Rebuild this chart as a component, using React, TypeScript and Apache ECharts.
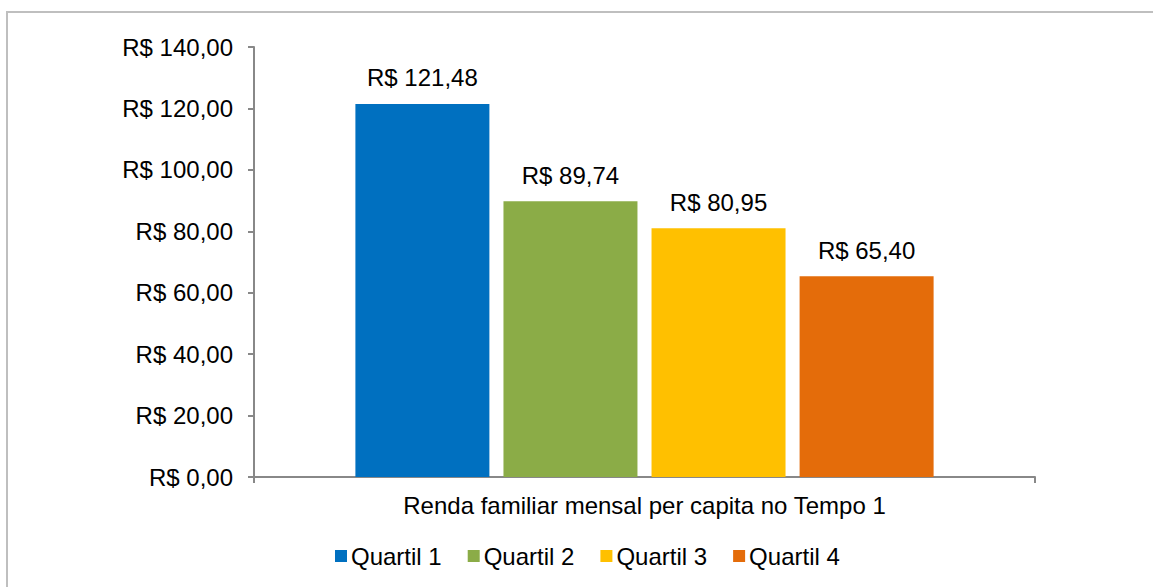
import React, { useEffect, useRef } from "react";
import * as echarts from "echarts";

const categories = ["Renda familiar mensal per capita no Tempo 1"];
const seriesNames = ["Quartil 1", "Quartil 2", "Quartil 3", "Quartil 4"];
const seriesValues = [121.48, 89.74, 80.95, 65.4];
const seriesColors = ["#0070C0", "#8BAC47", "#FFC000", "#E46C0A"];
const yMin = 0;
const yMax = 140;
const yInterval = 20;

const fmt = (v: number) => "R$ " + v.toFixed(2).replace(".", ",");

export default function App() {
  const ref = useRef<HTMLDivElement>(null);
  useEffect(() => {
    document.body.style.margin = "0";
    const chart = echarts.init(ref.current!, null, { renderer: "svg" });
    const font = "Liberation Sans, Arial, sans-serif";
    chart.setOption({
      animation: false,
      backgroundColor: "#fff",
      textStyle: { fontFamily: font },
      graphic: [
        {
          type: "rect",
          shape: { x: 7, y: 12, width: 1160, height: 600 },
          style: { fill: "none", stroke: "#BFBFBF", lineWidth: 2 },
          silent: true,
        },
      ],
      grid: { left: 254, right: 118, top: 47, bottom: 110 },
      legend: {
        top: 539,
        left: 330,
        itemWidth: 12,
        itemHeight: 12,
        itemGap: 26,
        icon: "rect",
        textStyle: { fontSize: 24, color: "#000", fontFamily: font, padding: [0, 0, 0, -1] },
        data: seriesNames,
      },
      xAxis: {
        type: "category",
        data: categories,
        axisLine: { lineStyle: { color: "#888", width: 2 } },
        axisTick: { show: true, length: 6, lineStyle: { color: "#888", width: 2 } },
        axisLabel: { fontSize: 24, color: "#000", margin: 16, fontFamily: font },
      },
      yAxis: {
        type: "value",
        min: yMin,
        max: yMax,
        interval: yInterval,
        splitLine: { show: false },
        axisLine: { show: true, lineStyle: { color: "#888", width: 2 } },
        axisTick: { show: true, length: 6, lineStyle: { color: "#888", width: 2 } },
        axisLabel: { fontSize: 24, color: "#000", margin: 21, fontFamily: font, formatter: (v: number) => fmt(v) },
      },
      series: seriesNames.map((name, i) => ({
        name,
        type: "bar",
        barWidth: 134,
        barGap: "10.5%",
        itemStyle: { color: seriesColors[i] },
        label: {
          show: true,
          position: "top",
          distance: 14,
          fontSize: 24,
          color: "#000",
          fontFamily: font,
          formatter: (p: any) => fmt(p.value),
        },
        data: [seriesValues[i]],
      })),
    });
    return () => chart.dispose();
  }, []);
  return <div ref={ref} style={{ width: 1153, height: 587 }} />;
}
